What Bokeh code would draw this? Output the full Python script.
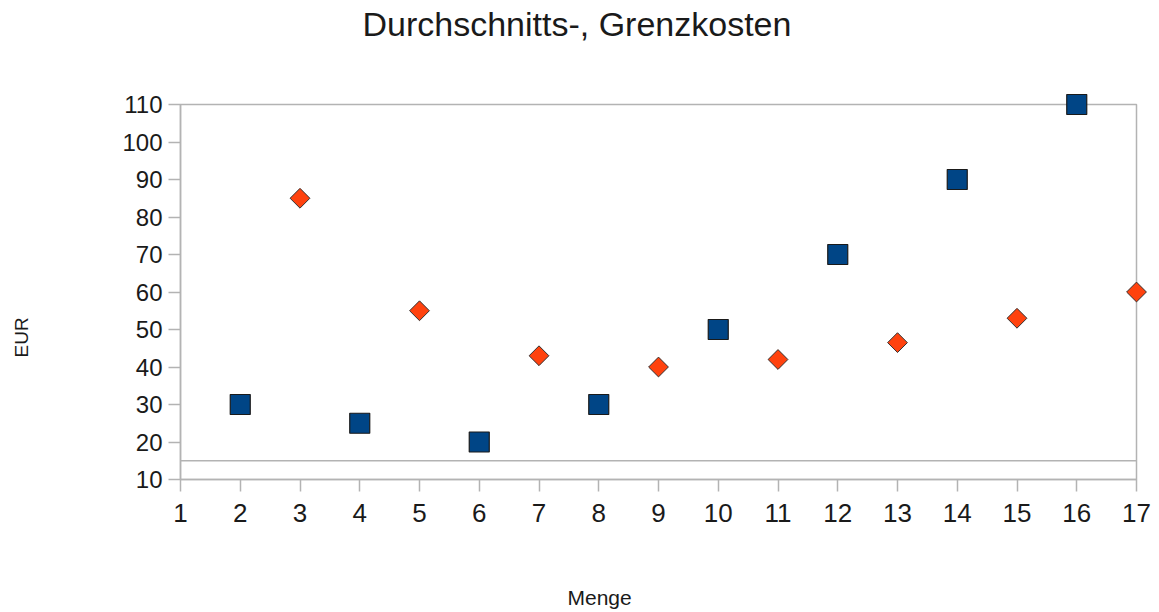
import math
from bokeh.plotting import figure
from bokeh.models import Range1d, Span, Title, FixedTicker
from bokeh.embed import file_html
from bokeh.resources import INLINE

# Data
menge_avg = [2, 4, 6, 8, 10, 12, 14, 16]
durchschnitt = [30, 25, 20, 30, 50, 70, 90, 110]
menge_marg = [3, 5, 7, 9, 11, 13, 15, 17]
grenzkosten = [85, 55, 43, 40, 42, 46.5, 53, 60]
x_ticks = list(range(1, 18))
y_ticks = list(range(10, 111, 10))
ref_line = 15

GRAY = "#b3b3b3"
TXT = "#1a1a1a"
FONT = "Liberation Sans"

p = figure(width=1159, height=612, output_backend="svg", toolbar_location=None,
           x_range=Range1d(x_ticks[0], x_ticks[-1]), y_range=Range1d(y_ticks[0], y_ticks[-1]))
p.min_border_left = 180
p.min_border_top = 104
p.min_border_right = 23
p.min_border_bottom = 133

p.xgrid.visible = False
p.ygrid.visible = False
p.outline_line_color = GRAY
p.outline_line_width = 1.5

for ax in (p.xaxis[0], p.yaxis[0]):
    ax.axis_line_color = GRAY
    ax.axis_line_width = 1.5
    ax.major_tick_line_color = GRAY
    ax.major_tick_line_width = 1.5
    ax.major_tick_out = 12
    ax.major_tick_in = 0
    ax.minor_tick_line_color = None
    ax.major_label_text_font = FONT
    ax.major_label_text_color = TXT

p.xaxis[0].ticker = FixedTicker(ticks=x_ticks)
p.yaxis[0].ticker = FixedTicker(ticks=y_ticks)
p.xaxis[0].major_label_text_font_size = "26px"
p.yaxis[0].major_label_text_font_size = "24px"
p.xaxis[0].major_label_standoff = 12
p.yaxis[0].major_label_standoff = 6

p.add_layout(Span(location=ref_line, dimension="width", line_color=GRAY, line_width=1.5))

r1 = p.scatter(menge_marg, grenzkosten, marker="square", angle=math.pi / 4, size=14,
               fill_color="#ff420e", line_color="#333333", line_width=1)
r2 = p.scatter(menge_avg, durchschnitt, marker="square", size=20,
               fill_color="#004586", line_color="#1a1a1a", line_width=1.2)
r1.level = "overlay"
r2.level = "overlay"


def spacer(gap):
    return Title(text=" ", text_font_size="1px", standoff=gap)


def label(text, size, offset):
    return Title(text=text, align="left", offset=offset, vertical_align="top",
                 standoff=0, text_font=FONT, text_font_size=size,
                 text_font_style="normal", text_color=TXT)


p.add_layout(spacer(57), "above")
p.add_layout(label("Durchschnitts-, Grenzkosten", "34px", 182), "above")

p.add_layout(spacer(58), "below")
p.add_layout(label("Menge", "21px", 387), "below")

p.add_layout(spacer(83), "left")
p.add_layout(label("EUR", "19px", 122), "left")

open("out.html", "w").write(file_html(p, INLINE))
